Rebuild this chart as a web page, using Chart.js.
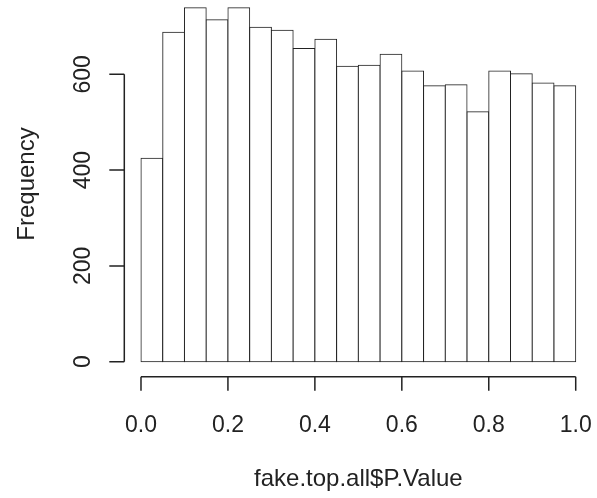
<!DOCTYPE html>
<html>
<head>
<meta charset="utf-8">
<script src="https://cdn.jsdelivr.net/npm/chart.js@4"></script>
<style>
  html, body { margin: 0; padding: 0; background: #fff; }
  #wrap { width: 597px; height: 498px; position: relative; }
</style>
</head>
<body>
<div id="wrap"><canvas id="hist"></canvas></div>
<script>
const binStarts = [0.00, 0.05, 0.10, 0.15, 0.20, 0.25, 0.30, 0.35, 0.40, 0.45,
                   0.50, 0.55, 0.60, 0.65, 0.70, 0.75, 0.80, 0.85, 0.90, 0.95];
const counts = [425, 688, 739, 714, 739, 698, 692, 654, 673, 617,
                619, 642, 607, 576, 578, 522, 607, 601, 582, 576];
const binWidth = 0.05;
const xTicks = [0, 0.2, 0.4, 0.6, 0.8, 1.0];
const yTicks = [0, 200, 400, 600];
const xTitle = 'fake.top.all$P.Value';
const yTitle = 'Frequency';

const FONT = '23px "Liberation Sans", Arial, sans-serif';
const TITLE_FONT = '24px "Liberation Sans", Arial, sans-serif';
const INK = '#222';

// R style detached axes, positioned through the chart's own scales
const rAxes = {
  id: 'rAxes',
  afterDraw(chart) {
    const { ctx, chartArea, scales: { x, y } } = chart;
    ctx.save();
    ctx.strokeStyle = INK;
    ctx.fillStyle = INK;
    ctx.lineWidth = 1.5;

    // x axis
    const ay = chartArea.bottom + 0.8;
    ctx.beginPath();
    ctx.moveTo(x.getPixelForValue(xTicks[0]), ay);
    ctx.lineTo(x.getPixelForValue(xTicks[xTicks.length - 1]), ay);
    xTicks.forEach(v => {
      const px = x.getPixelForValue(v);
      ctx.moveTo(px, ay);
      ctx.lineTo(px, ay + 14);
    });
    ctx.stroke();
    ctx.font = FONT;
    ctx.textAlign = 'center';
    ctx.textBaseline = 'alphabetic';
    xTicks.forEach(v => ctx.fillText(v.toFixed(1), x.getPixelForValue(v), 432));
    ctx.font = TITLE_FONT;
    ctx.fillText(xTitle, (chartArea.left + chartArea.right) / 2, 486);

    // y axis
    const ax = chartArea.left + 0.7;
    ctx.beginPath();
    ctx.moveTo(ax, y.getPixelForValue(yTicks[0]));
    ctx.lineTo(ax, y.getPixelForValue(yTicks[yTicks.length - 1]));
    yTicks.forEach(v => {
      const py = y.getPixelForValue(v);
      ctx.moveTo(ax, py);
      ctx.lineTo(ax - 15, py);
    });
    ctx.stroke();
    ctx.font = FONT;
    yTicks.forEach(v => {
      ctx.save();
      ctx.translate(90, y.getPixelForValue(v));
      ctx.rotate(-Math.PI / 2);
      ctx.fillText(String(v), 0, 0);
      ctx.restore();
    });
    ctx.save();
    ctx.font = TITLE_FONT;
    ctx.translate(34, 184);
    ctx.rotate(-Math.PI / 2);
    ctx.fillText(yTitle, 0, 0);
    ctx.restore();

    ctx.restore();
  }
};

new Chart(document.getElementById('hist'), {
  type: 'bar',
  data: {
    datasets: [{
      data: binStarts.map((b, i) => ({ x: b + binWidth / 2, y: counts[i] })),
      backgroundColor: '#fff',
      borderColor: INK,
      borderSkipped: false,
      borderWidth: 1,
      inflateAmount: 0.5,
      barPercentage: 1,
      categoryPercentage: 1
    }]
  },
  options: {
    responsive: true,
    maintainAspectRatio: false,
    animation: false,
    layout: { padding: { left: 123.6, right: 3.9, top: 0, bottom: 122.1 } },
    plugins: { legend: { display: false }, tooltip: { enabled: false } },
    scales: {
      x: { type: 'linear', offset: false, min: -0.04, max: 1.04, display: false },
      y: { min: -29.6, max: 755.1, display: false }
    }
  },
  plugins: [rAxes]
});
</script>
</body>
</html>
